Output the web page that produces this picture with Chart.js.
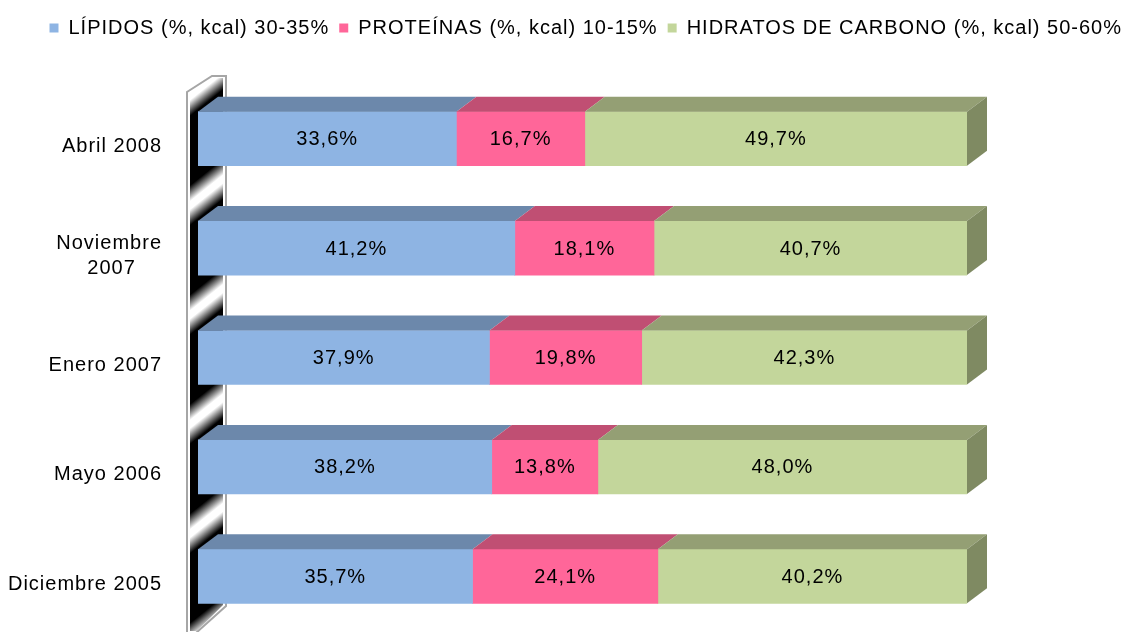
<!DOCTYPE html>
<html lang="es">
<head>
<meta charset="UTF-8">
<title>Distribución calórica de la dieta</title>
<style>
    html, body { margin: 0; padding: 0; background: #fff; }
    .container { width: 1126px; height: 632px; position: relative; }
</style>
<script src="https://cdn.jsdelivr.net/npm/chart.js"></script>
</head>
<body>
<div class="container"><canvas id="grafico"></canvas></div>
<script>
    // datos
    const categorias = ['Abril 2008', ['Noviembre', '2007    '], 'Enero 2007', 'Mayo 2006', 'Diciembre 2005'];
    const series = ['LÍPIDOS (%, kcal) 30-35%', 'PROTEÍNAS (%, kcal) 10-15%', 'HIDRATOS DE CARBONO (%, kcal) 50-60%'];
    const lipidos = [33.6, 41.2, 37.9, 38.2, 35.7];
    const proteinas = [16.7, 18.1, 19.8, 13.8, 24.1];
    const hidratos = [49.7, 40.7, 42.3, 48.0, 40.2];

    // estilo
    const frente = ['#8eb4e3', '#ff6699', '#c3d69b'];
    const arriba = ['#6c88ab', '#c04f73', '#949f74'];
    const lado = '#7f8a62';
    const FONDO_X = 20, FONDO_Y = 15;
    const fuente = '"Liberation Sans", Arial, sans-serif';

    function formato(v) {
        return v.toFixed(1).replace('.', ',') + '%';
    }

    const espaciado = {
        id: 'espaciado',
        beforeLayout(chart) { chart.ctx.letterSpacing = '1px'; },
        beforeDraw(chart) { chart.ctx.letterSpacing = '1px'; }
    };

    // pared lateral con reflejos
    const pared = {
        id: 'pared',
        beforeDatasetsDraw(chart) {
            const ctx = chart.ctx;
            const a = chart.chartArea;
            const L = a.left, T = a.top, B = a.bottom;
            const nCat = chart.data.labels.length;
            const banda = (B - T) / nCat;

            const gx = L + 7, largo = 400, den = 1.64 * largo;
            const grad = ctx.createLinearGradient(gx, 0, gx + 0.8 * largo, largo);
            for (let i = 0; i <= nCat; i++) {
                const t = (T + i * banda) / den;
                [[t - 20 / den, '#000'], [t - 4 / den, '#fff'], [t + 4 / den, '#fff'], [t + 20 / den, '#000']]
                    .forEach(([s, c]) => grad.addColorStop(Math.min(1, Math.max(0, s)), c));
            }

            ctx.save();
            ctx.fillStyle = grad;
            ctx.beginPath();
            ctx.moveTo(L - 8, T + 10);
            ctx.lineTo(L + 17, T - 6);
            ctx.lineTo(L + 25, T - 6);
            ctx.lineTo(L + 25, B - 26);
            ctx.lineTo(L - 1, B);
            ctx.lineTo(L - 8, B);
            ctx.closePath();
            ctx.fill();

            ctx.strokeStyle = '#a6a6a6';
            ctx.lineWidth = 2;
            ctx.beginPath();
            ctx.moveTo(L - 11, B + 2);
            ctx.lineTo(L - 11, T + 8);
            ctx.lineTo(L + 14, T - 8);
            ctx.lineTo(L + 28, T - 8);
            ctx.lineTo(L + 28, B - 25);
            ctx.lineTo(L - 2, B + 2);
            ctx.stroke();
            ctx.restore();
        }
    };

    // caras superiores, lateral y etiquetas
    const caras3d = {
        id: 'caras3d',
        afterDatasetsDraw(chart) {
            const ctx = chart.ctx;
            const n = chart.data.datasets.length;
            ctx.save();
            chart.data.datasets.forEach((ds, d) => {
                chart.getDatasetMeta(d).data.forEach(bar => {
                    const {x, y, base, height} = bar.getProps(['x', 'y', 'base', 'height'], true);
                    const top = y - height / 2, bottom = y + height / 2;
                    ctx.fillStyle = arriba[d];
                    ctx.beginPath();
                    ctx.moveTo(base, top);
                    ctx.lineTo(base + FONDO_X, top - FONDO_Y);
                    ctx.lineTo(x + FONDO_X, top - FONDO_Y);
                    ctx.lineTo(x, top);
                    ctx.closePath();
                    ctx.fill();
                    if (d === n - 1) {
                        ctx.fillStyle = lado;
                        ctx.beginPath();
                        ctx.moveTo(x, top);
                        ctx.lineTo(x + FONDO_X, top - FONDO_Y);
                        ctx.lineTo(x + FONDO_X, bottom - FONDO_Y);
                        ctx.lineTo(x, bottom);
                        ctx.closePath();
                        ctx.fill();
                    }
                });
            });

            ctx.fillStyle = '#000';
            ctx.font = '20px ' + fuente;
            ctx.textAlign = 'center';
            ctx.textBaseline = 'middle';
            chart.data.datasets.forEach((ds, d) => {
                chart.getDatasetMeta(d).data.forEach((bar, i) => {
                    const {x, y, base} = bar.getProps(['x', 'y', 'base'], true);
                    ctx.fillText(formato(ds.data[i]), (x + base) / 2, y + 1);
                });
            });
            ctx.restore();
        }
    };

    const ctxGrafico = document.getElementById('grafico').getContext('2d');
    new Chart(ctxGrafico, {
        type: 'bar',
        data: {
            labels: categorias,
            datasets: [
                { label: series[0], data: lipidos, backgroundColor: frente[0] },
                { label: series[1], data: proteinas, backgroundColor: frente[1] },
                { label: series[2], data: hidratos, backgroundColor: frente[2] }
            ]
        },
        options: {
            indexAxis: 'y',
            responsive: true,
            maintainAspectRatio: false,
            animation: false,
            layout: { padding: { left: 0, right: -6, top: 8, bottom: 1 } },
            datasets: { bar: { barThickness: 54, borderWidth: 0 } },
            scales: {
                x: {
                    stacked: true, min: 0, max: 100, position: 'top',
                    grid: { display: false }, border: { display: false },
                    ticks: { display: false },
                    afterFit(s) { s.height = 36; }
                },
                y: {
                    stacked: true,
                    grid: { display: false, drawTicks: true, tickLength: 36 },
                    border: { display: false },
                    ticks: {
                        color: '#000',
                        font: { family: fuente, size: 20, lineHeight: 1.25 },
                        padding: 0,
                        align: 'end',
                        labelOffset: 18
                    },
                    afterFit(s) { s.width = 198; }
                },
                yDer: {
                    type: 'category', position: 'right',
                    grid: { display: false }, border: { display: false },
                    ticks: { display: false },
                    afterFit(s) { s.width = 165; }
                }
            },
            plugins: {
                legend: {
                    position: 'top',
                    align: 'end',
                    labels: {
                        boxWidth: 9,
                        boxHeight: 9,
                        padding: 10,
                        color: '#000',
                        font: { family: fuente, size: 20 }
                    }
                },
                tooltip: { enabled: false }
            }
        },
        plugins: [espaciado, pared, caras3d]
    });
</script>
</body>
</html>
